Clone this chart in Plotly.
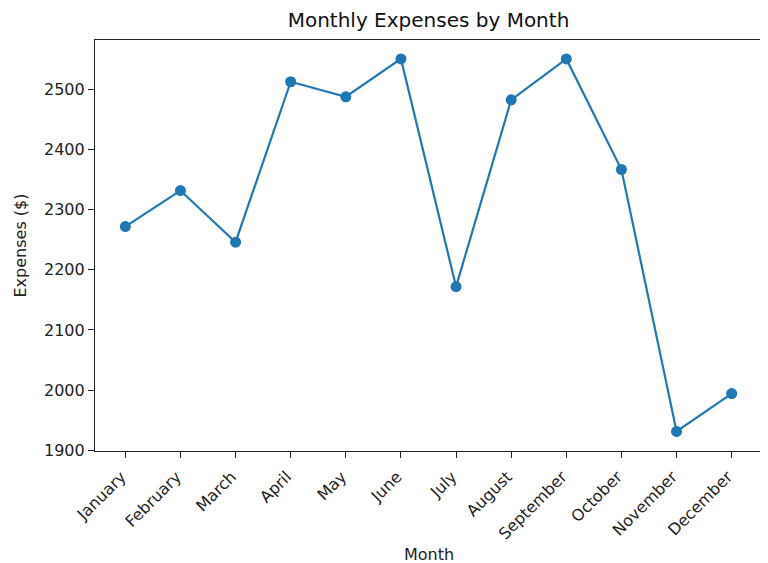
import plotly.graph_objects as go

months = ["January", "February", "March", "April", "May", "June", "July",
          "August", "September", "October", "November", "December"]
expenses = [2272, 2332, 2246, 2513, 2488, 2551, 2172, 2483, 2551, 2367, 1931, 1994]
y_ticks = [1900, 2000, 2100, 2200, 2300, 2400, 2500]

x_idx = list(range(len(months)))

fig = go.Figure()
fig.add_trace(go.Scatter(
    x=x_idx, y=expenses, mode="lines+markers",
    line=dict(color="#1f77b4", width=2.2),
    marker=dict(color="#1f77b4", size=11),
    showlegend=False,
))

# page body has an 8px margin, so the figure is laid out 8px smaller and shifted
OFF = 8
font = "DejaVu Sans, sans-serif"
W, H = 768 - OFF, 563 - OFF
L, R, T, B = 95 - OFF, W - (762 - OFF), 40 - OFF, H - (451 - OFF)
PW, PH = W - L - R, H - T - B
fig.update_layout(
    width=W, height=H,
    margin=dict(l=L, r=R, t=T, b=B),
    paper_bgcolor="white", plot_bgcolor="white",
    font=dict(family=font, color="#222", size=16),
    title=dict(text="Monthly Expenses by Month", x=0.5, xanchor="center",
               xref="paper", y=1 - (20 - OFF) / H, yanchor="middle",
               font=dict(size=20, color="#111")),
    annotations=[
        dict(text="Month", xref="paper", yref="paper", x=0.5,
             y=-((554 - OFF) - (H - B)) / PH,
             xanchor="center", yanchor="middle", showarrow=False,
             font=dict(size=16, color="#222")),
        dict(text="Expenses ($)", xref="paper", yref="paper",
             x=-(L - (20 - OFF)) / PW, y=0.5,
             xanchor="center", yanchor="middle", textangle=-90, showarrow=False,
             font=dict(size=16, color="#222")),
    ],
)
fig.update_xaxes(
    range=[-0.55, 11.55], tickmode="array", tickvals=x_idx, ticktext=months,
    tickangle=-45, ticks="outside", ticklen=6, tickcolor="#222",
    showline=True, linecolor="#222", linewidth=1.2, mirror=True,
    showgrid=False, zeroline=False, automargin=False,
    tickfont=dict(size=16), ticklabelshift=-4, ticklabelstandoff=3,
)
fig.update_yaxes(
    range=[1898.5, 2582.5], tickmode="array", tickvals=y_ticks,
    ticks="outside", ticklen=6, tickcolor="#222",
    showline=True, linecolor="#222", linewidth=1.2, mirror=True,
    showgrid=False, zeroline=False, automargin=False,
    tickfont=dict(size=16),
)

fig.write_html("out.html")
